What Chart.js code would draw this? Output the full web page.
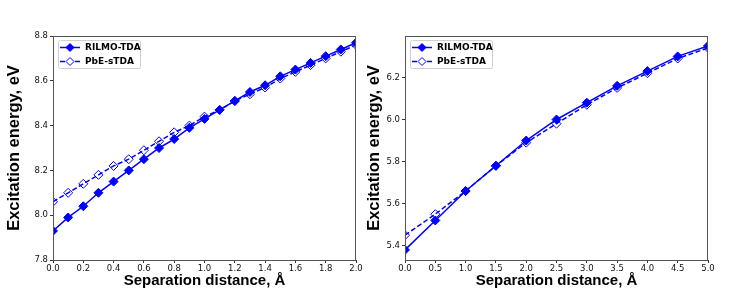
<!DOCTYPE html>
<html lang="en">
<head>
  <meta charset="UTF-8">
  <title>Excitation energy vs separation distance</title>
  <script src="https://cdn.jsdelivr.net/npm/chart.js"></script>
  <style>
    body { margin: 0; background: #fff; }
    #wrap { position: relative; width: 747px; height: 307px; }
    #leftBox { position: absolute; left: 0; top: 0; width: 373px; height: 307px; }
    #rightBox { position: absolute; left: 360px; top: 0; width: 387px; height: 307px; }
  </style>
</head>
<body>
  <div id="wrap">
    <div id="leftBox"><canvas id="leftChart" width="373" height="307"></canvas></div>
    <div id="rightBox"><canvas id="rightChart" width="387" height="307"></canvas></div>
  </div>

  <script>
    // left panel
    const leftX = [0.0, 0.1, 0.2, 0.3, 0.4, 0.5, 0.6, 0.7, 0.8, 0.9, 1.0,
                   1.1, 1.2, 1.3, 1.4, 1.5, 1.6, 1.7, 1.8, 1.9, 2.0];
    const leftRilmo = [7.93, 7.99, 8.04, 8.10, 8.15, 8.20, 8.25, 8.30, 8.34, 8.39, 8.43,
                       8.47, 8.51, 8.55, 8.58, 8.62, 8.65, 8.68, 8.71, 8.74, 8.77];
    const leftPbe = [8.06, 8.10, 8.14, 8.18, 8.22, 8.25, 8.29, 8.33, 8.37, 8.40, 8.44,
                     8.47, 8.51, 8.54, 8.57, 8.61, 8.64, 8.67, 8.70, 8.73, 8.76];
    const leftXTicks = [0.0, 0.2, 0.4, 0.6, 0.8, 1.0, 1.2, 1.4, 1.6, 1.8, 2.0];
    const leftYTicks = [7.8, 8.0, 8.2, 8.4, 8.6, 8.8];

    // right panel
    const rightX = [0.0, 0.5, 1.0, 1.5, 2.0, 2.5, 3.0, 3.5, 4.0, 4.5, 5.0];
    const rightRilmo = [5.38, 5.52, 5.66, 5.78, 5.90, 6.00, 6.08, 6.16, 6.23, 6.30, 6.35];
    const rightPbe = [5.45, 5.55, 5.66, 5.78, 5.89, 5.98, 6.07, 6.15, 6.22, 6.29, 6.34];
    const rightXTicks = [0.0, 0.5, 1.0, 1.5, 2.0, 2.5, 3.0, 3.5, 4.0, 4.5, 5.0];
    const rightYTicks = [5.4, 5.6, 5.8, 6.0, 6.2];

    const seriesNames = ['RILMO-TDA', 'PbE-sTDA'];
    const blue = '#0000ff';

    function toPoints(xs, ys) {
      return xs.map((x, i) => ({ x: x, y: ys[i] }));
    }

    // frame on all four sides + matplotlib-like legend
    const framePlugin = {
      id: 'frame',
      afterDraw(chart) {
        const a = chart.chartArea;
        const ctx = chart.ctx;
        ctx.save();
        ctx.strokeStyle = '#555';
        ctx.lineWidth = 1;
        ctx.strokeRect(a.left + 0.5, a.top + 0.5, a.right - a.left - 1, a.bottom - a.top);

        // legend
        const lx = a.left + 5, ly = a.top + 4, lw = 82, lh = 28;
        ctx.fillStyle = 'rgba(255,255,255,0.8)';
        ctx.strokeStyle = '#d0d0d0';
        ctx.beginPath();
        ctx.roundRect(lx + 0.5, ly + 0.5, lw, lh, 2);
        ctx.fill();
        ctx.stroke();

        chart.data.datasets.forEach((ds, i) => {
          const y = ly + 7.5 + i * 14;
          ctx.strokeStyle = blue;
          ctx.lineWidth = 1.5;
          ctx.setLineDash(ds.borderDash || []);
          ctx.beginPath();
          ctx.moveTo(lx + 2, y);
          ctx.lineTo(lx + 22, y);
          ctx.stroke();
          ctx.setLineDash([]);
          const r = 4;
          const cx = lx + 12;
          ctx.beginPath();
          ctx.moveTo(cx, y - r);
          ctx.lineTo(cx + r, y);
          ctx.lineTo(cx, y + r);
          ctx.lineTo(cx - r, y);
          ctx.closePath();
          ctx.fillStyle = i === 0 ? blue : '#fff';
          ctx.fill();
          ctx.lineWidth = 1;
          ctx.stroke();
          ctx.fillStyle = '#000';
          ctx.font = 'bold 9px "DejaVu Sans"';
          ctx.textBaseline = 'middle';
          ctx.textAlign = 'left';
          ctx.fillText(seriesNames[i], lx + 27, y + 0.5);
        });
        ctx.restore();
      }
    };

    function makeChart(canvasId, xs, rilmo, pbe, xTicks, yTicks, xMin, xMax, yMin, yMax, yWidth, padRight) {
      const ctx = document.getElementById(canvasId).getContext('2d');
      return new Chart(ctx, {
        type: 'line',
        data: {
          datasets: [
            {
              label: seriesNames[0],
              data: toPoints(xs, rilmo),
              borderColor: blue,
              backgroundColor: blue,
              borderWidth: 1.5,
              pointStyle: 'rectRot',
              pointRadius: 4.5,
              pointBorderWidth: 1,
              clip: 0,
              fill: false
            },
            {
              label: seriesNames[1],
              data: toPoints(xs, pbe),
              borderColor: blue,
              backgroundColor: 'rgba(0,0,0,0)',
              borderWidth: 1.5,
              borderDash: [5, 2.5],
              pointStyle: 'rectRot',
              pointRadius: 4.5,
              pointBorderWidth: 1,
              clip: 0,
              fill: false
            }
          ]
        },
        options: {
          responsive: false,
          animation: false,
          layout: { padding: { left: 0, top: 36, right: padRight, bottom: 0 } },
          plugins: {
            legend: { display: false },
            tooltip: { enabled: false }
          },
          scales: {
            x: {
              type: 'linear',
              min: xMin,
              max: xMax,
              afterBuildTicks: (s) => { s.ticks = xTicks.map(v => ({ value: v })); },
              afterFit: (s) => { s.height = 47; },
              grid: { drawOnChartArea: false, drawTicks: true, tickLength: 3, color: '#333' },
              border: { display: false },
              ticks: {
                color: '#111',
                padding: 1,
                maxRotation: 0,
                font: { family: 'DejaVu Sans', size: 8.5 },
                callback: (v) => v.toFixed(1)
              },
              title: {
                display: true,
                text: 'Separation distance, Å',
                color: '#000',
                font: { family: 'Liberation Sans', size: 15, weight: 'bold' },
                padding: { top: 0, bottom: 17 }
              }
            },
            y: {
              min: yMin,
              max: yMax,
              afterBuildTicks: (s) => { s.ticks = yTicks.map(v => ({ value: v })); },
              afterFit: (s) => { s.width = yWidth; },
              grid: { drawOnChartArea: false, drawTicks: true, tickLength: 3, color: '#333' },
              border: { display: false },
              ticks: {
                color: '#111',
                padding: 2,
                font: { family: 'DejaVu Sans', size: 8.5 },
                callback: (v) => v.toFixed(1)
              },
              title: {
                display: true,
                text: 'Excitation energy, eV',
                color: '#000',
                font: { family: 'Liberation Sans', size: 16.5, weight: 'bold' },
                padding: { top: 5, bottom: 0 }
              }
            }
          }
        },
        plugins: [framePlugin]
      });
    }

    makeChart('leftChart', leftX, leftRilmo, leftPbe, leftXTicks, leftYTicks, 0, 2, 7.8, 8.8, 53, 17);
    makeChart('rightChart', rightX, rightRilmo, rightPbe, rightXTicks, rightYTicks, 0, 5, 5.332, 6.397, 45, 39);
  </script>
</body>
</html>
